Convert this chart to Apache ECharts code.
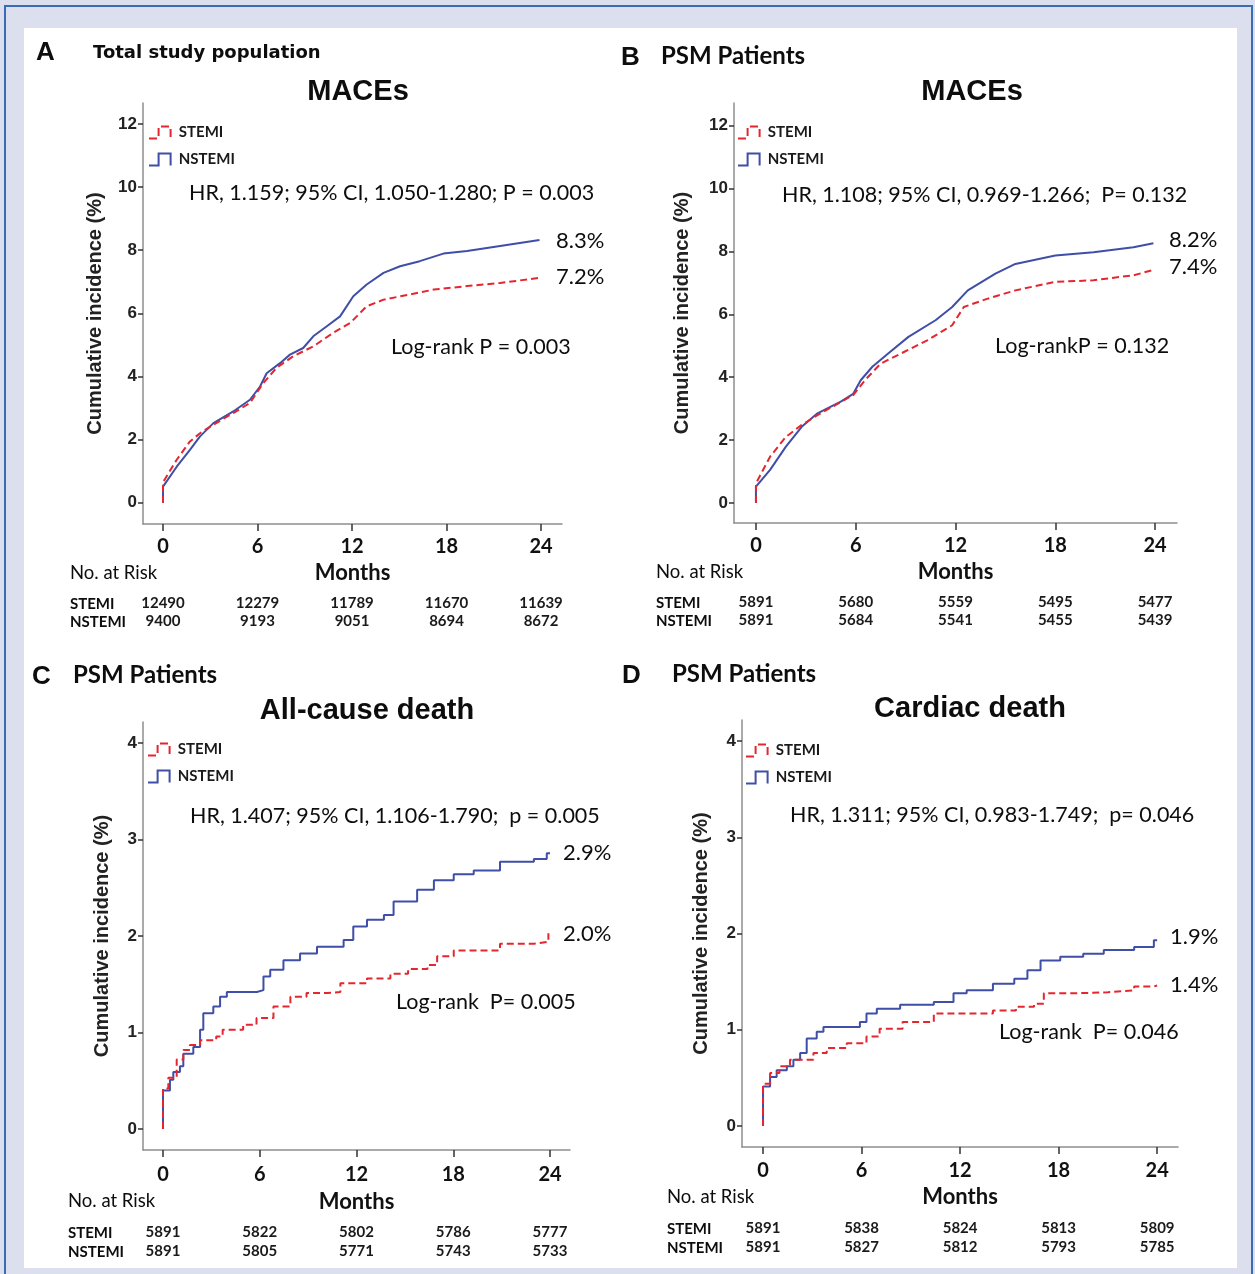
<!DOCTYPE html>
<html>
<head>
<meta charset="utf-8">
<script src="https://cdn.jsdelivr.net/npm/echarts@6/dist/echarts.min.js"></script>
<style>
  html, body { margin: 0; padding: 0; background: #fff; }
  #main { width: 1255px; height: 1274px; }
</style>
</head>
<body>
<div id="main"></div>
<script>
var xTicks = [0, 6, 12, 18, 24];
var macesTicks = [0, 2, 4, 6, 8, 10, 12];
var deathTicks = [0, 1, 2, 3, 4];

// numbers at risk
var aRiskStemi = [12490, 12279, 11789, 11670, 11639];
var aRiskNstemi = [9400, 9193, 9051, 8694, 8672];
var bRiskStemi = [5891, 5680, 5559, 5495, 5477];
var bRiskNstemi = [5891, 5684, 5541, 5455, 5439];
var cRiskStemi = [5891, 5822, 5802, 5786, 5777];
var cRiskNstemi = [5891, 5805, 5771, 5743, 5733];
var dRiskStemi = [5891, 5838, 5824, 5813, 5809];
var dRiskNstemi = [5891, 5827, 5812, 5793, 5785];

// A - total population, MACEs (months / cumulative %)
var aStemiMonths = [0, 0, 0.87, 1.71, 2.35, 3.2, 4.46, 5.52, 6.37, 7.2, 8.27, 9.54, 10.8, 11.9, 12.93, 14, 15.7, 17.2, 19.3, 21.4, 23.9];
var aStemiPct = [0, 0.65, 1.36, 1.94, 2.2, 2.47, 2.84, 3.16, 3.79, 4.27, 4.64, 4.95, 5.38, 5.7, 6.22, 6.43, 6.6, 6.75, 6.86, 6.96, 7.12];
var aNstemiMonths = [0, 0, 0.87, 1.71, 2.35, 3.2, 4.46, 5.52, 6.16, 6.58, 7.43, 8.06, 8.9, 9.54, 10.4, 11.24, 12.08, 12.93, 14, 15.05, 16.3, 17.8, 19.3, 21.4, 23.9];
var aNstemiPct = [0, 0.51, 1.14, 1.67, 2.1, 2.52, 2.89, 3.26, 3.68, 4.1, 4.42, 4.69, 4.9, 5.27, 5.59, 5.9, 6.54, 6.91, 7.28, 7.49, 7.65, 7.89, 7.97, 8.13, 8.32];

// B - PSM, MACEs
var bStemiMonths = [0, 0, 0.85, 1.8, 2.75, 3.7, 5.1, 5.85, 6.55, 7.5, 8.9, 10.3, 11.8, 12.5, 13.9, 15.6, 18, 20.3, 22.7, 23.9];
var bStemiPct = [0, 0.62, 1.47, 2.1, 2.48, 2.79, 3.21, 3.43, 3.9, 4.43, 4.8, 5.17, 5.65, 6.23, 6.49, 6.76, 7.03, 7.08, 7.24, 7.41];
var bNstemiMonths = [0, 0, 0.85, 1.8, 2.75, 3.7, 5.1, 5.85, 6.3, 7.0, 7.95, 9.17, 10.8, 11.8, 12.74, 14.4, 15.6, 18, 20.3, 22.7, 23.9];
var bNstemiPct = [0, 0.52, 1.05, 1.79, 2.42, 2.85, 3.22, 3.47, 3.9, 4.33, 4.75, 5.28, 5.81, 6.23, 6.76, 7.29, 7.6, 7.87, 7.97, 8.13, 8.26];

// C - PSM, all-cause death
var cStemiMonths = [0, 0, 0.33, 0.85, 1.26, 1.67, 2.3, 3.3, 3.7, 4.97, 5.8, 6.85, 7.9, 8.9, 10.2, 11.0, 12.65, 14.1, 15.2, 16.4, 17.0, 18.03, 20.9, 23.0, 23.9];
var cStemiPct = [0, 0.42, 0.53, 0.72, 0.82, 0.87, 0.92, 0.96, 1.03, 1.08, 1.15, 1.27, 1.37, 1.41, 1.42, 1.51, 1.56, 1.61, 1.66, 1.70, 1.79, 1.85, 1.92, 1.94, 2.03];
var cNstemiMonths = [0, 0, 0.43, 0.64, 1.05, 1.26, 1.88, 2.3, 2.5, 3.12, 3.54, 3.96, 5.82, 6.23, 6.65, 7.47, 8.5, 9.55, 11.2, 11.8, 12.65, 13.7, 14.3, 15.76, 16.8, 18.03, 19.27, 20.9, 23, 23.8, 24];
var cNstemiPct = [0, 0.40, 0.51, 0.59, 0.65, 0.78, 0.85, 1.03, 1.2, 1.27, 1.37, 1.42, 1.44, 1.58, 1.65, 1.75, 1.82, 1.89, 1.96, 2.1, 2.17, 2.22, 2.36, 2.48, 2.58, 2.64, 2.68, 2.77, 2.8, 2.86, 2.86];

// D - PSM, cardiac death
var dStemiMonths = [0, 0, 0.43, 1.0, 1.64, 3.07, 3.88, 5.1, 6.3, 7.1, 8.5, 10.4, 14, 15.4, 16.5, 17.1, 19.1, 21, 22.6, 23.8, 24];
var dStemiPct = [0, 0.44, 0.55, 0.62, 0.69, 0.76, 0.81, 0.86, 0.93, 1.01, 1.08, 1.17, 1.2, 1.24, 1.27, 1.38, 1.39, 1.41, 1.45, 1.46, 1.46];
var dNstemiMonths = [0, 0, 0.43, 0.83, 1.45, 1.85, 2.26, 2.66, 3.27, 3.68, 5.9, 6.3, 6.93, 8.35, 10.4, 11.6, 12.4, 14, 15.3, 16.1, 16.9, 18.1, 19.5, 20.75, 22.6, 23.8, 24];
var dNstemiPct = [0, 0.41, 0.51, 0.58, 0.62, 0.69, 0.76, 0.91, 0.98, 1.03, 1.08, 1.17, 1.22, 1.26, 1.29, 1.38, 1.41, 1.48, 1.53, 1.62, 1.72, 1.76, 1.79, 1.83, 1.86, 1.93, 1.93];

var RED = '#e4262f';
var BLUE = '#3f4ea6';
var ARIAL = '"Liberation Sans", Arial, sans-serif';
var CALIBRI = 'Lato, "Open Sans", sans-serif';
var TAHOMA = '"DejaVu Sans", Verdana, sans-serif';

function zip(xs, ys) {
  return xs.map(function (x, i) { return [x, ys[i]]; });
}

var panels = [
  {
    box: [143, 103, 419, 421], xr: [-1.27, 25.33], yr: [-0.675, 12.66], yTicks: macesTicks,
    stemi: zip(aStemiMonths, aStemiPct), nstemi: zip(aNstemiMonths, aNstemiPct), step: false,
    riskS: aRiskStemi, riskN: aRiskNstemi, tickMargin: 13, nameGap: 38, riskMargin: [72, 90], yNameGap: 38,
    legend: [148, 125]
  },
  {
    box: [734, 103, 443, 420], xr: [-1.32, 25.32], yr: [-0.64, 12.72], yTicks: macesTicks,
    stemi: zip(bStemiMonths, bStemiPct), nstemi: zip(bNstemiMonths, bNstemiPct), step: false,
    riskS: bRiskStemi, riskN: bRiskNstemi, tickMargin: 13, nameGap: 38, riskMargin: [72, 90], yNameGap: 42,
    legend: [737, 125]
  },
  {
    box: [143, 722, 427, 428], xr: [-1.24, 25.24], yr: [-0.218, 4.22], yTicks: deathTicks,
    stemi: zip(cStemiMonths, cStemiPct), nstemi: zip(cNstemiMonths, cNstemiPct), step: 'end',
    riskS: cRiskStemi, riskN: cRiskNstemi, tickMargin: 15, nameGap: 41, riskMargin: [75, 94], yNameGap: 31,
    legend: [147, 742]
  },
  {
    box: [742, 720, 436, 427], xr: [-1.28, 25.27], yr: [-0.218, 4.22], yTicks: deathTicks,
    stemi: zip(dStemiMonths, dStemiPct), nstemi: zip(dNstemiMonths, dNstemiPct), step: 'end',
    riskS: dRiskStemi, riskN: dRiskNstemi, tickMargin: 14, nameGap: 39, riskMargin: [74, 93], yNameGap: 31,
    legend: [745, 743]
  }
];

var stepIcon = 'path://M0,12 L8,12 L8,2 L18,2 L18,12';

var option = {
  backgroundColor: '#dcdfee',
  animation: false,
  grid: [],
  xAxis: [],
  yAxis: [],
  legend: [],
  series: [],
  graphic: []
};

panels.forEach(function (p, i) {
  option.grid.push({ left: p.box[0], top: p.box[1], width: p.box[2], height: p.box[3] });

  option.xAxis.push({
    gridIndex: i, type: 'value', position: 'bottom', min: p.xr[0], max: p.xr[1],
    splitLine: { show: false },
    axisLine: { show: true, onZero: false, lineStyle: { color: '#8e8e8e', width: 1.5 } },
    axisTick: { show: true, customValues: xTicks, length: 7, lineStyle: { color: '#333', width: 1.5 } },
    axisLabel: { customValues: xTicks, margin: p.tickMargin, fontFamily: CALIBRI, fontWeight: 'bold', fontSize: 20, color: '#111' },
    name: 'Months', nameLocation: 'middle', nameGap: p.nameGap,
    nameTextStyle: { fontFamily: CALIBRI, fontWeight: 'bold', fontSize: 22, color: '#111' }
  });
  [p.riskS, p.riskN].forEach(function (risk, k) {
    option.xAxis.push({
      gridIndex: i, type: 'value', position: 'bottom', min: p.xr[0], max: p.xr[1],
      splitLine: { show: false }, axisLine: { show: false, onZero: false }, axisTick: { show: false },
      axisLabel: {
        customValues: xTicks, margin: p.riskMargin[k],
        fontFamily: CALIBRI, fontWeight: 'bold', fontSize: 15, color: '#1a1a1a',
        formatter: function (v) { return risk[xTicks.indexOf(v)]; }
      }
    });
  });

  option.yAxis.push({
    gridIndex: i, type: 'value', min: p.yr[0], max: p.yr[1],
    splitLine: { show: false },
    axisLine: { show: true, onZero: false, lineStyle: { color: '#8e8e8e', width: 1.5 } },
    axisTick: { show: true, customValues: p.yTicks, length: 5, lineStyle: { color: '#333', width: 1.5 } },
    axisLabel: { customValues: p.yTicks, margin: 6, fontFamily: ARIAL, fontWeight: 'bold', fontSize: 17, color: '#222' },
    name: 'Cumulative incidence (%)', nameLocation: 'middle', nameGap: p.yNameGap,
    nameTextStyle: { fontFamily: ARIAL, fontWeight: 'bold', fontSize: 20, color: '#222' }
  });

  option.series.push({
    name: 'NSTEMI', type: 'line', xAxisIndex: i * 3, yAxisIndex: i,
    data: p.nstemi, step: p.step, symbol: 'none',
    lineStyle: { color: BLUE, width: 2 }, itemStyle: { color: BLUE }
  });
  option.series.push({
    name: 'STEMI', type: 'line', xAxisIndex: i * 3, yAxisIndex: i,
    data: p.stemi, step: p.step, symbol: 'none',
    lineStyle: { color: RED, width: 2, type: [7, 4] }, itemStyle: { color: RED }
  });

  option.legend.push({
    left: p.legend[0], top: p.legend[1], orient: 'vertical',
    itemWidth: 28, itemHeight: 12, itemGap: 12, padding: 0, selectedMode: false,
    textStyle: { fontFamily: CALIBRI, fontWeight: 'bold', fontSize: 15, color: '#1a1a1a' },
    data: [
      { name: 'STEMI', icon: stepIcon, itemStyle: { color: 'rgba(0,0,0,0)', borderColor: RED, borderWidth: 2, borderType: 'dashed' } },
      { name: 'NSTEMI', icon: stepIcon, itemStyle: { color: 'rgba(0,0,0,0)', borderColor: BLUE, borderWidth: 2 } }
    ]
  });
});

function txt(x, y, s, font, align) {
  return {
    type: 'text', x: x, y: y, z: 50,
    style: { text: s, font: font, fill: '#0d0d0d', textAlign: align || 'left', textVerticalAlign: 'middle' }
  };
}

var big = '21.5px ' + CALIBRI;
var pct = '22px ' + CALIBRI;
var risk = 'bold 15px ' + CALIBRI;
var sub = 'bold 24px ' + CALIBRI;
var atRisk = '18.5px ' + CALIBRI;

option.graphic = [
  { type: 'rect', z: -10, shape: { x: 24, y: 28, width: 1213, height: 1240 }, style: { fill: '#fff' } },
  { type: 'rect', z: -9, shape: { x: 5, y: 6, width: 1247, height: 1290 }, style: { fill: 'none', stroke: '#3a6cb2', lineWidth: 2 } },

  // A
  txt(36, 53, 'A', 'bold 26px ' + ARIAL),
  txt(93, 53, 'Total study population', 'bold 18px ' + TAHOMA),
  txt(358, 92, 'MACEs', 'bold 29px ' + ARIAL, 'center'),
  txt(189, 193, 'HR, 1.159; 95% CI, 1.050-1.280; P = 0.003', big),
  txt(556, 241, '8.3%', pct),
  txt(556, 277, '7.2%', pct),
  txt(391, 347, 'Log-rank P = 0.003', big),
  txt(70, 573, 'No. at Risk', atRisk),
  txt(70, 604, 'STEMI', risk),
  txt(70, 622, 'NSTEMI', risk),

  // B
  txt(621, 58, 'B', 'bold 26px ' + ARIAL),
  txt(661, 56, 'PSM Patients', sub),
  txt(972, 92, 'MACEs', 'bold 29px ' + ARIAL, 'center'),
  txt(782, 195, 'HR, 1.108; 95% CI, 0.969-1.266;  P= 0.132', big),
  txt(1169, 240, '8.2%', pct),
  txt(1169, 267, '7.4%', pct),
  txt(995, 346, 'Log-rankP = 0.132', big),
  txt(656, 572, 'No. at Risk', atRisk),
  txt(656, 603, 'STEMI', risk),
  txt(656, 621, 'NSTEMI', risk),

  // C
  txt(32, 677, 'C', 'bold 26px ' + ARIAL),
  txt(73, 675, 'PSM Patients', sub),
  txt(367, 711, 'All-cause death', 'bold 29px ' + ARIAL, 'center'),
  txt(190, 816, 'HR, 1.407; 95% CI, 1.106-1.790;  p = 0.005', big),
  txt(563, 853, '2.9%', pct),
  txt(563, 934, '2.0%', pct),
  txt(396, 1002, 'Log-rank  P= 0.005', big),
  txt(68, 1201, 'No. at Risk', atRisk),
  txt(68, 1233, 'STEMI', risk),
  txt(68, 1252, 'NSTEMI', risk),

  // D
  txt(622, 676, 'D', 'bold 26px ' + ARIAL),
  txt(672, 674, 'PSM Patients', sub),
  txt(970, 709, 'Cardiac death', 'bold 29px ' + ARIAL, 'center'),
  txt(790, 815, 'HR, 1.311; 95% CI, 0.983-1.749;  p= 0.046', big),
  txt(1170, 937, '1.9%', pct),
  txt(1170, 985, '1.4%', pct),
  txt(999, 1032, 'Log-rank  P= 0.046', big),
  txt(667, 1197, 'No. at Risk', atRisk),
  txt(667, 1229, 'STEMI', risk),
  txt(667, 1248, 'NSTEMI', risk)
];

var myChart = echarts.init(document.getElementById('main'));
myChart.setOption(option);
</script>
</body>
</html>
